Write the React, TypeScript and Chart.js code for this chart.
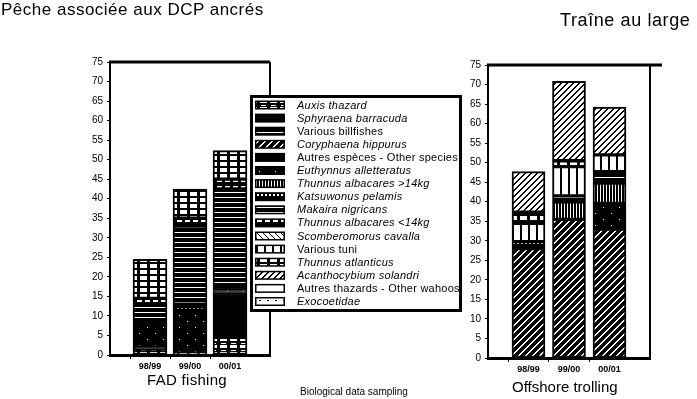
import React, { useEffect, useRef } from 'react';
import { Chart, registerables } from 'chart.js';
Chart.register(...registerables);

const seasons = ['98/99', '99/00', '00/01'];
const yMax = 75;
const yStep = 5;

const species = [
  'Auxis thazard',
  'Sphyraena barracuda',
  'Various billfishes',
  'Coryphaena hippurus',
  'Autres espèces - Other species',
  'Euthynnus alletteratus',
  'Thunnus albacares >14kg',
  'Katsuwonus pelamis',
  'Makaira nigricans',
  'Thunnus albacares <14kg',
  'Scomberomorus cavalla',
  'Various tuni',
  'Thunnus atlanticus',
  'Acanthocybium solandri',
  'Autres thazards - Other wahoos',
  'Exocoetidae',
];
const italicNames = [true, true, false, true, false, true, true, true, true, true, true, false, true, true, false, true];

// FAD fishing (98/99, 99/00, 00/01), stacked bottom -> top in legend order
const fadAuxis = [1.5, 0.5, 4.5];
const fadSphyraena = [0, 0, 0];
const fadBillfishes = [0, 0, 0];
const fadCoryphaena = [0, 0, 0];
const fadOther = [0.5, 0, 11.5];
const fadEuthynnus = [6, 11, 0.5];
const fadYellowfinBig = [0, 0, 0];
const fadSkipjack = [0, 1.5, 1.5];
const fadMarlin = [5, 20, 24.5];
const fadYellowfinSmall = [1.5, 2, 2.5];
const fadScomberomorus = [0, 0, 0];
const fadTuni = [0, 0, 0];
const fadBlackfin = [10, 7.5, 7.3];
const fadWahoo = [0, 0, 0];
const fadOtherWahoos = [0, 0, 0];
const fadFlyingfish = [0, 0, 0];

// Offshore trolling
const trAuxis = [0, 0, 0];
const trSphyraena = [0, 0, 0];
const trBillfishes = [0, 0, 0];
const trCoryphaena = [28, 35.5, 33];
const trOther = [0, 0, 0];
const trEuthynnus = [0, 0, 6.6];
const trYellowfinBig = [0, 4.5, 5.2];
const trSkipjack = [1.8, 0, 0];
const trMarlin = [0, 1.5, 2.9];
const trYellowfinSmall = [0, 0, 0];
const trScomberomorus = [0, 0, 0];
const trTuni = [4.7, 7.5, 4.3];
const trBlackfin = [2.8, 1.5, 0];
const trWahoo = [10.4, 20.3, 12.2];
const trOtherWahoos = [0, 0, 0];
const trFlyingfish = [0, 0, 0];

const fadValues = [fadAuxis, fadSphyraena, fadBillfishes, fadCoryphaena, fadOther, fadEuthynnus, fadYellowfinBig, fadSkipjack, fadMarlin, fadYellowfinSmall, fadScomberomorus, fadTuni, fadBlackfin, fadWahoo, fadOtherWahoos, fadFlyingfish];
const trValues = [trAuxis, trSphyraena, trBillfishes, trCoryphaena, trOther, trEuthynnus, trYellowfinBig, trSkipjack, trMarlin, trYellowfinSmall, trScomberomorus, trTuni, trBlackfin, trWahoo, trOtherWahoos, trFlyingfish];

const FONT = '"Liberation Sans", Arial, sans-serif';
const B = '#000';
const W = '#fff';

type Spec = { w: number; h: number; bg: string; fg?: string; rects?: number[][]; diag?: { dir: 1 | -1; t: number } };

const patternSpecs: Spec[] = [
  { w: 10, h: 7, bg: B, fg: W, rects: [[1, 0, 5, 1], [0, 2, 7, 3]] },
  { w: 1, h: 1, bg: B },
  { w: 8, h: 8, bg: B, fg: W, rects: [[0, 4, 8, 1]] },
  { w: 7, h: 7, bg: B, fg: W, diag: { dir: 1, t: 2 } },
  { w: 1, h: 1, bg: B },
  { w: 16, h: 12, bg: B, fg: W, rects: [[3, 3, 1, 1], [11, 9, 1, 1]] },
  { w: 3, h: 1, bg: B, fg: W, rects: [[1, 0, 1, 1]] },
  { w: 4, h: 6, bg: B, fg: W, rects: [[1, 2, 2, 2]] },
  { w: 1, h: 5, bg: B, fg: W, rects: [[0, 2, 1, 1]] },
  { w: 8, h: 8, bg: B, fg: W, rects: [[1, 2, 5, 4]] },
  { w: 6, h: 6, bg: W, fg: B, diag: { dir: -1, t: 1 } },
  { w: 8, h: 1, bg: W, fg: B, rects: [[0, 0, 2, 1]] },
  { w: 10, h: 6, bg: B, fg: W, rects: [[0, 0, 7, 4]] },
  { w: 6, h: 6, bg: W, fg: B, diag: { dir: 1, t: 2 } },
  { w: 8, h: 8, bg: W },
  { w: 8, h: 8, bg: W, fg: B, rects: [[3, 4, 2, 1]] },
];

function makePattern(ctx: CanvasRenderingContext2D, s: Spec): CanvasPattern | string {
  const c = document.createElement('canvas');
  c.width = s.w;
  c.height = s.h;
  const t = c.getContext('2d')!;
  t.fillStyle = s.bg;
  t.fillRect(0, 0, s.w, s.h);
  if (s.fg) {
    t.fillStyle = s.fg;
    (s.rects || []).forEach(([x, y, w, h]) => t.fillRect(x, y, w, h));
    if (s.diag) {
      for (let y = 0; y < s.h; y++) {
        const base = s.diag.dir === 1 ? s.h - 1 - y : y;
        for (let k = 0; k < s.diag.t; k++) {
          t.fillRect((base + k) % s.w, y, 1, 1);
        }
      }
    }
  }
  return ctx.createPattern(c, 'repeat') || s.bg;
}

function framePlugin(ext: number) {
  return {
    id: 'frame',
    afterDraw(chart: any) {
      const { ctx, chartArea } = chart;
      const { left, right, top, bottom } = chartArea;
      ctx.save();
      ctx.fillStyle = B;
      ctx.fillRect(left - 1, top - 1.5, right - left + ext + 1, 3);
      ctx.fillRect(right - 1, top, 2, bottom - top);
      ctx.restore();
    },
  };
}

function legendPlugin(patterns: (CanvasPattern | string)[]) {
  return {
    id: 'boxLegend',
    afterDraw(chart: any) {
      const ctx: any = chart.ctx;
      const x0 = 250, y0 = 95, x1 = 462, y1 = 312;
      ctx.save();
      ctx.fillStyle = W;
      ctx.fillRect(x0, y0, x1 - x0, y1 - y0);
      ctx.strokeStyle = B;
      ctx.lineWidth = 3;
      ctx.strokeRect(x0 + 1.5, y0 + 1.5, x1 - x0 - 3, y1 - y0 - 3);
      const rowH = 13.1;
      chart.data.datasets.forEach((ds: any, i: number) => {
        const cy = 105 + i * rowH;
        ctx.fillStyle = B;
        ctx.fillRect(255, cy - 4.5, 30, 9);
        ctx.fillStyle = patterns[i] as any;
        ctx.fillRect(256.5, cy - 3, 27, 6);
        ctx.fillStyle = B;
        ctx.font = `${italicNames[i] ? 'italic ' : ''}11px ${FONT}`;
        ctx.letterSpacing = '0.25px';
        ctx.textBaseline = 'middle';
        ctx.textAlign = 'left';
        ctx.fillText(ds.label, 297, cy + 0.5);
      });
      ctx.restore();
    },
  };
}

function makeConfig(
  values: number[][],
  patterns: (CanvasPattern | string)[],
  geom: { padRight: number; padTop: number; yWidth: number; xHeight: number; barT: number },
  plugins: any[]
): any {
  const labels = ['', ...seasons, ''];
  return {
    type: 'bar',
    data: {
      labels,
      datasets: species.map((name, i) => ({
        label: name,
        data: [null, ...values[i].map((v) => (v > 0 ? v : null)), null],
        backgroundColor: patterns[i],
        borderColor: B,
        borderWidth: 2,
        borderSkipped: false,
        barThickness: geom.barT,
      })),
    },
    options: {
      animation: false,
      responsive: false,
      maintainAspectRatio: false,
      devicePixelRatio: 1,
      layout: { padding: { left: 0, right: geom.padRight, top: geom.padTop, bottom: 0 } },
      plugins: { legend: { display: false }, tooltip: { enabled: false }, title: { display: false } },
      scales: {
        x: {
          stacked: true,
          offset: false,
          grid: {
            drawOnChartArea: false,
            tickLength: 4,
            color: (c: any) => (c.index === 0 || c.index === labels.length - 1 ? 'rgba(0,0,0,0)' : B),
          },
          border: { color: B, width: 3 },
          ticks: { color: B, font: { family: FONT, size: 9, weight: 'bold' }, padding: 2, autoSkip: false, maxRotation: 0 },
          afterFit: (s: any) => { s.height = geom.xHeight; },
        },
        y: {
          stacked: true,
          min: 0,
          max: yMax,
          ticks: { stepSize: yStep, color: B, font: { family: FONT, size: 10 }, padding: 4 },
          grid: { drawOnChartArea: false, tickLength: 3, color: B },
          border: { color: B, width: 2 },
          afterFit: (s: any) => { s.width = geom.yWidth; },
        },
      },
    },
    plugins,
  };
}

export default function App() {
  const leftRef = useRef<HTMLCanvasElement>(null);
  const rightRef = useRef<HTMLCanvasElement>(null);

  useEffect(() => {
    const lc = leftRef.current!, rc = rightRef.current!;
    const lctx = lc.getContext('2d')!, rctx = rc.getContext('2d')!;
    const lp = patternSpecs.map((s) => makePattern(lctx, s));
    const rp = patternSpecs.map((s) => makePattern(rctx, s));
    const left = new Chart(lc, makeConfig(fadValues, lp, { padRight: 210, padTop: 62, yWidth: 110, xHeight: 44, barT: 34 }, [framePlugin(0), legendPlugin(lp)]));
    const right = new Chart(rc, makeConfig(trValues, rp, { padRight: 47, padTop: 65, yWidth: 48, xHeight: 41, barT: 33 }, [framePlugin(12)]));
    return () => { left.destroy(); right.destroy(); };
  }, []);

  const txt = (extra: React.CSSProperties): React.CSSProperties => ({
    position: 'absolute', fontFamily: FONT, color: '#000', whiteSpace: 'nowrap', lineHeight: 1, ...extra,
  });

  return (
    <div style={{ position: 'fixed', left: 0, top: 0, width: 697, height: 399, background: '#fff', overflow: 'hidden' }}>
      <canvas ref={leftRef} width={480} height={399} style={{ position: 'absolute', left: 0, top: 0 }} />
      <canvas ref={rightRef} width={257} height={399} style={{ position: 'absolute', left: 440, top: 0 }} />
      <div style={txt({ left: 1, top: 1, fontSize: 17, letterSpacing: '0.5px' })}>Pêche associée aux DCP ancrés</div>
      <div style={txt({ left: 560, top: 11, fontSize: 18, letterSpacing: '0.6px' })}>Traîne au large</div>
      <div style={txt({ left: 147, top: 372, fontSize: 15, letterSpacing: '0.3px' })}>FAD fishing</div>
      <div style={txt({ left: 512, top: 379, fontSize: 15 })}>Offshore trolling</div>
      <div style={txt({ left: 300, top: 387, fontSize: 10 })}>Biological data sampling</div>
    </div>
  );
}
